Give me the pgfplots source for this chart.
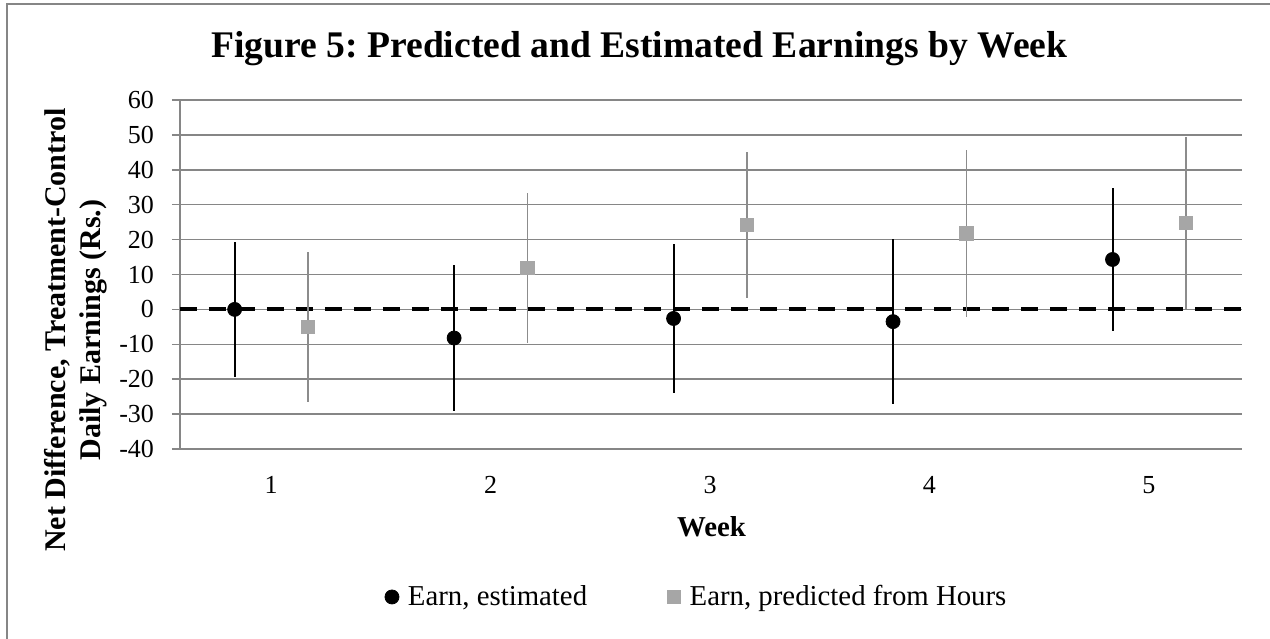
\documentclass[border=0pt]{standalone}
\usepackage{fontspec}
\setmainfont{Liberation Serif}
\usepackage{pgfplots}
\pgfplotsset{compat=1.18}
\definecolor{gridgray}{RGB}{134,134,134}
\definecolor{markgray}{RGB}{166,166,166}
\definecolor{bargray}{RGB}{140,140,140}

\begin{document}
\begin{tikzpicture}
% picture frame: 1 px of the reference = 0.5pt
\useasboundingbox (-90pt,-94.5pt) rectangle (545pt,224.5pt);
\draw[gridgray, line width=0.8pt] (-86.5pt,-100pt) -- (-86.5pt,222.5pt) -- (560pt,222.5pt);

\begin{axis}[
    at={(0,0)}, anchor=south west,
    scale only axis,
    width=531pt, height=174.5pt,
    xmin=0.585, xmax=5.424,
    ymin=-40, ymax=60,
    xtick={1,2,3,4,5},
    ytick={-40,-30,-20,-10,0,10,20,30,40,50,60},
    ymajorgrids=true,
    grid style={gridgray, line width=0.75pt},
    axis x line*=bottom, axis y line*=left,
    axis line style={gridgray, line width=0.75pt, -},
    x tick style={draw=none},
    y tick style={gridgray, line width=0.75pt},
    tick align=outside, major tick length=4pt,
    ticklabel style={font=\fontsize{13}{15}\selectfont},
    /pgf/number format/assume math mode=true,
    yticklabel style={xshift=-5.5pt},
    xticklabel style={yshift=-6pt},
    clip=false,
    legend columns=2,
    legend style={at={(0.187,-0.424)}, anchor=west, draw=none,
        font=\fontsize{14.4}{17}\selectfont,
        /tikz/every odd column/.append style={column sep=2.5pt},
        /tikz/every even column/.append style={column sep=38pt}},
    legend image code/.code={\draw[#1] plot coordinates {(0pt,0pt)};},
]

% zero reference line
\addplot[black, line width=2pt, dash pattern=on 8.5pt off 6pt, forget plot]
    coordinates {(0.585,0)(5.45,0)};

\addplot+[
    only marks, mark=*, black,
    mark size=3.5pt,
    mark options={black, fill=black},
    error bars/.cd, y dir=both, y explicit,
    error mark=none,
    error bar style={black, line width=1pt}
    ]
    coordinates {
    (0.834,0.0) +- (0,19.4)
    (1.834,-8.2) +- (0,21.0)
    (2.834,-2.6) +- (0,21.3)
    (3.834,-3.5) +- (0,23.7)
    (4.834,14.3) +- (0,20.6)
    };

\addplot+[
    only marks, mark=square*, markgray,
    mark size=3.4pt,
    mark options={draw=markgray, fill=markgray},
    error bars/.cd, y dir=both, y explicit,
    error mark=none,
    error bar style={bargray, line width=0.8pt}
    ]
    coordinates {
    (1.168,-5.0) +- (0,21.4)
    (2.168,11.9) +- (0,21.5)
    (3.168,24.2) +- (0,21.0)
    (4.168,21.7) +- (0,23.9)
    (5.168,24.8) +- (0,24.7)
    };

\legend{{Earn, estimated}, {Earn, predicted from Hours}}
\end{axis}

\node[anchor=base, font=\bfseries\fontsize{18.8}{22}\selectfont]
    at (229.75pt,195.5pt) {Figure 5:\ Predicted and Estimated Earnings by Week};
\node[anchor=base, font=\bfseries\fontsize{14.4}{17}\selectfont]
    at (265.75pt,-43.5pt) {Week};
\node[rotate=90, align=center, font=\bfseries\fontsize{15}{17.5}\selectfont]
    at (-52.25pt,59.5pt) {Net Difference, Treatment-Control\\Daily Earnings (Rs.)};
\end{tikzpicture}
\end{document}
